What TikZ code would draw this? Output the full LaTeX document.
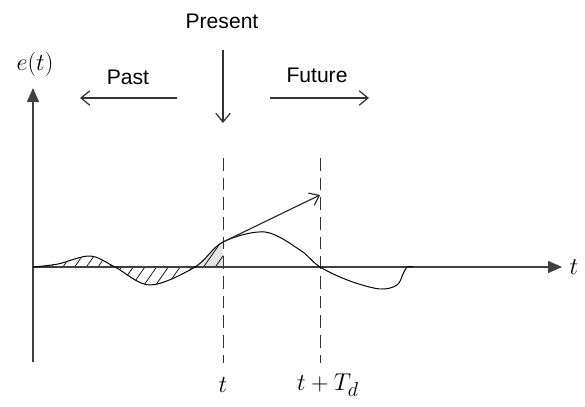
\documentclass[tikz,border=0pt]{standalone}
\usepackage{amsmath}
\usepackage{fontspec}
\setmainfont{Liberation Sans}
\usepackage{tikz}
\usetikzlibrary{arrows.meta,patterns.meta}

\newcommand{\errcurve}{plot[smooth,tension=0.55] coordinates {(33,267) (58,264) (90,256) (115,267) (150,285) (195,267) (223,242) (265,232) (300,250) (320,267) (350,281) (380,289) (397,285) (403,274) (407,267) (413,267)}}

\begin{document}
\begin{tikzpicture}[x=0.025cm,y=-0.025cm,>=Latex,
  axis/.style={draw=black!75,line width=0.9pt},
  marker/.style={draw=black!80,line width=0.7pt,dash pattern=on 9pt off 5pt},
  lbl/.style={font=\fontsize{15}{17}\selectfont,inner sep=1pt},
  mathlbl/.style={font=\fontsize{19}{21}\selectfont,inner sep=1pt},
  timearrow/.style={draw=black!80,line width=0.9pt,-{Straight Barb[length=2.2mm,width=3.6mm]}}]
\useasboundingbox (0,0) rectangle (585,407);
% hatched area up to the present
\begin{scope}
\clip (33,200) rectangle (223,300);
\fill[pattern={Lines[angle=55,distance=2.4mm,line width=0.5pt]}] \errcurve -- cycle;
\end{scope}
\begin{scope}
\clip (195,200) rectangle (223,300);
\fill[black!10] \errcurve -- cycle;
\fill[pattern={Lines[angle=55,distance=2.4mm,line width=0.5pt]}] \errcurve -- cycle;
\end{scope}
% axes
\coordinate (o) at (33,267);
\coordinate (ybot) at (33,362);
\coordinate (ytop) at (33,88);
\coordinate (xend) at (562,267);
\draw[axis,-{Triangle[length=3.5mm,width=3mm]}] (ybot) -- (ytop);
\draw[axis,-{Triangle[length=3.5mm,width=3mm]}] (o) -- (xend);
\node[mathlbl] (elabel) at (35,64) {$e(t)$};
\node[mathlbl,anchor=west] (tlabel) at (568,267) {$t$};
% present and prediction lines
\coordinate (now_top) at (223,158);
\coordinate (now_bot) at (223,363);
\coordinate (fut_top) at (320,158);
\coordinate (fut_bot) at (320,363);
\draw[marker] (now_top) -- (now_bot);
\draw[marker] (fut_top) -- (fut_bot);
\node[mathlbl] (tnow) at (223,385) {$t$};
\node[mathlbl] (tfut) at (328,385) {$t+T_d$};
% error curve
\draw[black,line width=0.7pt] \errcurve;
% tangent (derivative) prediction
\coordinate (tan_a) at (223,242);
\coordinate (tan_b) at (320,195);
\draw[black!85,line width=0.8pt,-{Straight Barb[length=2.2mm,width=3.4mm]}] (tan_a) -- (tan_b);
% time labels
\node[lbl] (present) at (222,21) {Present};
\coordinate (pr_a) at (223,50);
\coordinate (pr_b) at (223,123);
\draw[timearrow] (pr_a) -- (pr_b);
\node[lbl] (past) at (128,77) {Past};
\coordinate (pa_a) at (177,98);
\coordinate (pa_b) at (80,98);
\draw[timearrow] (pa_a) -- (pa_b);
\node[lbl] (future) at (317,75) {Future};
\coordinate (fu_a) at (270,98);
\coordinate (fu_b) at (369,98);
\draw[timearrow] (fu_a) -- (fu_b);
\end{tikzpicture}
\end{document}
